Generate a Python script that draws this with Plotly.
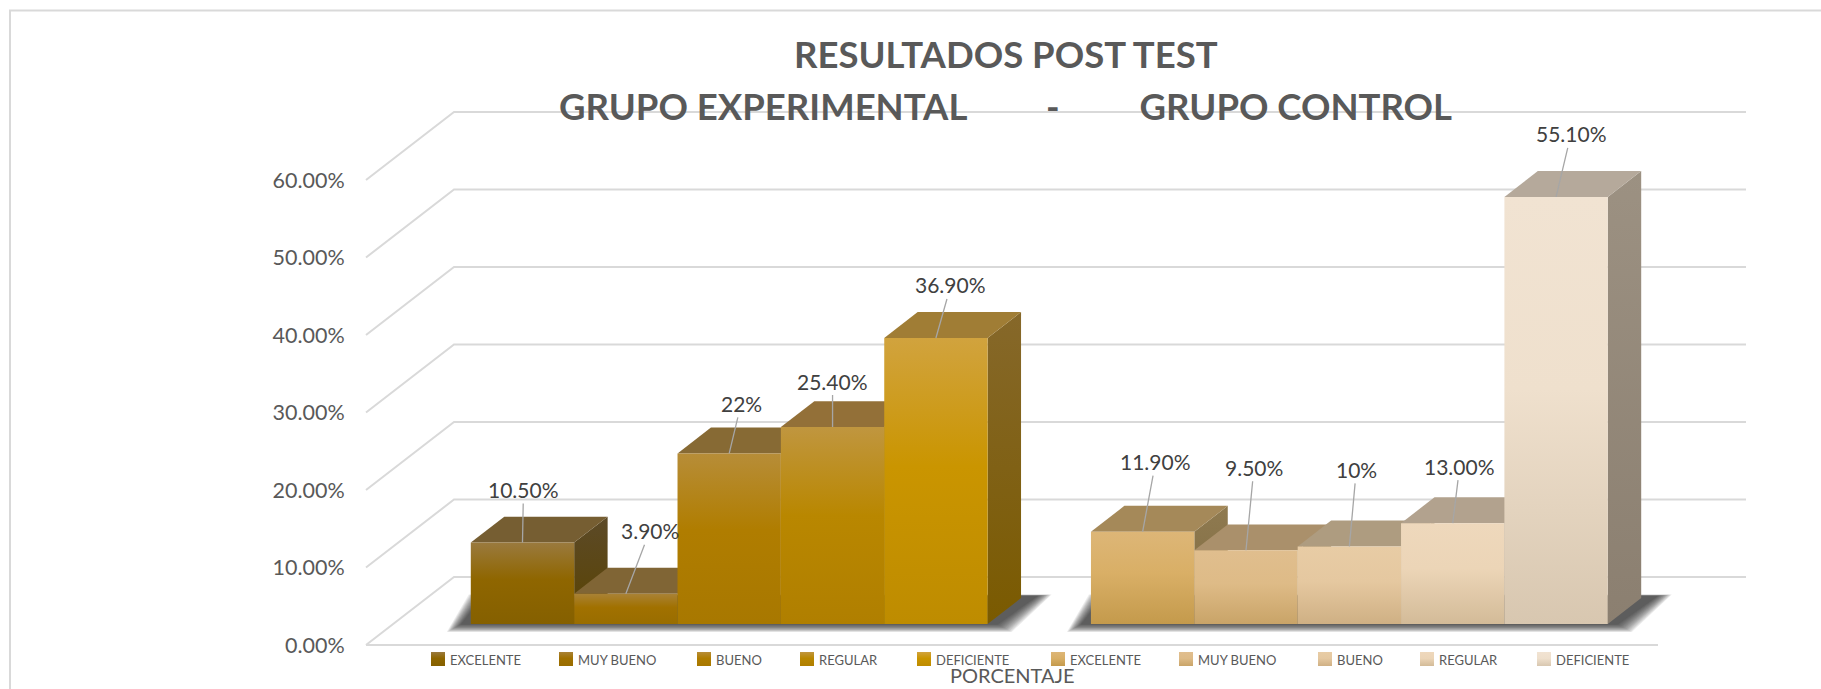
import plotly.graph_objects as go

# ---------- data ----------
CATEGORIES = ["EXCELENTE", "MUY BUENO", "BUENO", "REGULAR", "DEFICIENTE"]
EXPERIMENTAL = [10.5, 3.9, 22.0, 25.4, 36.9]
CONTROL = [11.9, 9.5, 10.0, 13.0, 55.1]
EXPERIMENTAL_LABELS = ["10.50%", "3.90%", "22%", "25.40%", "36.90%"]
CONTROL_LABELS = ["11.90%", "9.50%", "10%", "13.00%", "55.10%"]
TICK_VALUES = [0, 10, 20, 30, 40, 50, 60]
TICK_LABELS = ["0.00%", "10.00%", "20.00%", "30.00%", "40.00%", "50.00%", "60.00%"]
TITLE_1 = "RESULTADOS POST TEST"
TITLE_2 = "GRUPO EXPERIMENTAL" + "\u00a0" * 9 + "-" + "\u00a0" * 9 + "GRUPO CONTROL"
AXIS_TITLE = "PORCENTAJE"

# ---------- styles ----------
W, H = 1821, 689
X0_PX, Y0_PX = 366, 645      # front-left corner of the floor
UNIT = 103.36                # px per bar width
K = 7.75                     # px per percentage point
DX, DY = 88 / UNIT, 68 / K   # oblique depth of the chart box
D0, D1 = 0.31, 0.69          # bar position along the depth
FONT = "Lato"
GRID = "#d9d9d9"

FRONT = [  # bottom, mid, top
    ("#856000", "#8F6600", "#9A7A3E"), ("#996D00", "#A17100", "#A98236"),
    ("#A87800", "#B07D00", "#B78D38"), ("#B07F00", "#B98700", "#C0963F"),
    ("#BE8C00", "#CA9500", "#D1A33E"), ("#C49A4C", "#D9AF66", "#DDB677"),
    ("#C9A468", "#DEBB87", "#E0BE8E"), ("#CFB084", "#E5C8A0", "#E8CCA5"),
    ("#D3BB98", "#ECD5B7", "#EED8BC"), ("#D8C7B0", "#EFE0CD", "#F1E3D2"),
]
TOP = ["#765E32", "#806535", "#876A34", "#937038", "#A07D35",
       "#A58959", "#AA906B", "#AE9C80", "#B2A28E", "#B5A99B"]
SIDE = [("#5A4300", "#5C4A28"), ("#655000", "#6A5528"), ("#6E5600", "#735C2A"),
        ("#745A00", "#7A622A"), ("#7A5A00", "#86682A"), ("#7E6A40", "#8F7A50"),
        ("#85724F", "#948260"), ("#8B7B60", "#9A8B74"), ("#8D7F6A", "#9C8F7E"),
        ("#8B7F70", "#9C9182")]
LABEL_OFFSETS = [(1, -53), (24, -63), (12, -50), (0, -46), (15, -53),
                 (13, -70), (8, -83), (7, -77), (7, -57), (15, -63)]
LEGEND_SWATCH_PX = [431, 559, 697, 800, 917, 1051, 1179, 1318, 1420, 1537]


def xd(px):
    return (px - X0_PX) / UNIT


def yd(py):
    return (Y0_PX - py) / K


fig = go.Figure()


def poly(xs, ys, color=None, grad=None, name=None):
    kw = dict(x=xs + xs[:1], y=ys + ys[:1], mode="lines", fill="toself",
              line=dict(width=0), hoverinfo="skip", showlegend=False, name=name)
    if grad:
        kw["fillgradient"] = grad
        kw["fillcolor"] = grad["colorscale"][-1][1]
    else:
        kw["fillcolor"] = color
    fig.add_trace(go.Scatter(**kw))


def vgrad(y0, y1, stops):
    if len(stops) == 3:
        scale = [[0, stops[0]], [0.55, stops[1]], [1, stops[2]]]
    else:
        scale = [[0, stops[0]], [1, stops[1]]]
    return dict(type="vertical", start=y0, stop=y1, colorscale=scale)


# ---------- oblique gridlines ----------
for v in TICK_VALUES:
    fig.add_trace(go.Scatter(
        x=[0, DX, 12.5 + DX], y=[v, v + DY, v + DY], mode="lines",
        line=dict(color=GRID, width=2), hoverinfo="skip", showlegend=False))
fig.add_trace(go.Scatter(x=[0, 12.5], y=[0, 0], mode="lines",
                         line=dict(color=GRID, width=2.2), hoverinfo="skip", showlegend=False))

# ---------- bars ----------
values = EXPERIMENTAL + CONTROL
labels = EXPERIMENTAL_LABELS + CONTROL_LABELS
names = CATEGORIES + CATEGORIES
slots = [0, 1, 2, 3, 4, 6, 7, 8, 9, 10]
base = D0 * DY
ddx, ddy = (D1 - D0) * DX, (D1 - D0) * DY


# soft floor shadow under each group
def shadow(first, last):
    xl = 0.75 + first + D0 * DX
    xr = 0.75 + last + 1 + D0 * DX
    n = 14
    for k in range(n):
        e = (n - 1 - k) / (n - 1) * 14   # spread, px
        ex, up, dn = e / UNIT, 0.1 * e / K, 0.55 * e / K
        bot = base - 0.5 / K - dn
        top = base + 28 / K + up
        poly([xl - 10 / UNIT - ex, xr + 10 / UNIT + ex, xr + 50 / UNIT + ex, xl + 12 / UNIT - ex],
             [bot, bot, top, top], color="rgba(40,40,40,0.085)")


shadow(0, 4)
shadow(6, 10)

for i, (v, s) in enumerate(zip(values, slots)):
    x0 = 0.75 + s + D0 * DX
    x1 = x0 + 1
    y0 = base
    y1 = base + v
    # side face
    poly([x1, x1 + ddx, x1 + ddx, x1], [y0, y0 + ddy, y1 + ddy, y1],
         grad=vgrad(y0, y1 + ddy, SIDE[i]), name=names[i] + " (lateral)")
    # top face
    poly([x0, x1, x1 + ddx, x0 + ddx], [y1, y1, y1 + ddy, y1 + ddy],
         color=TOP[i], name=names[i] + " (superior)")
    # front face
    poly([x0, x1, x1, x0], [y0, y0, y1, y1],
         grad=vgrad(y0, y1, FRONT[i]), name=names[i])

# ---------- data labels with leader lines ----------
annotations = []
for i, (v, s) in enumerate(zip(values, slots)):
    x0 = 0.75 + s + D0 * DX
    annotations.append(dict(
        x=x0 + 0.5, y=base + v, xref="x", yref="y", text=labels[i],
        showarrow=True, arrowhead=0, arrowwidth=1.3, arrowcolor="#a6a6a6",
        ax=LABEL_OFFSETS[i][0], ay=LABEL_OFFSETS[i][1], standoff=0,
        font=dict(family=FONT, size=21, color="#404040")))

# ---------- legend row ----------
for i, px in enumerate(LEGEND_SWATCH_PX):
    xa, xb = xd(px), xd(px + 14)
    ya, yb = yd(666), yd(652)
    poly([xa, xb, xb, xa], [ya, ya, yb, yb],
         grad=vgrad(ya, yb, FRONT[i]), name=names[i] + " (leyenda)")
    annotations.append(dict(
        x=xd(px + 17), y=yd(660), xref="x", yref="y", xanchor="left", yanchor="middle",
        text=names[i], showarrow=False,
        font=dict(family=FONT, size=13, color="#595959")))

# ---------- titles ----------
annotations += [
    dict(x=xd(1006), y=yd(54), xref="x", yref="y", text=TITLE_1, showarrow=False,
         font=dict(family=FONT, size=36.5, color="#595959", weight="bold")),
    dict(x=xd(1005), y=yd(106), xref="x", yref="y", text=TITLE_2, showarrow=False,
         font=dict(family=FONT, size=36.5, color="#595959", weight="bold")),
    dict(x=xd(1012), y=yd(675), xref="x", yref="y", text=AXIS_TITLE, showarrow=False,
         font=dict(family=FONT, size=20, color="#595959")),
]

# ---------- chart frame ----------
fig.add_trace(go.Scatter(
    x=[xd(10), xd(10), xd(W + 5)], y=[yd(H + 5), yd(10.5), yd(10.5)], mode="lines",
    line=dict(color=GRID, width=2), hoverinfo="skip", showlegend=False))

fig.update_layout(
    width=W, height=H, autosize=False, showlegend=False,
    margin=dict(l=0, r=0, t=0, b=0), paper_bgcolor="white", plot_bgcolor="white",
    annotations=annotations,
    xaxis=dict(visible=False, range=[xd(0), xd(W)], fixedrange=True),
    yaxis=dict(range=[yd(H), yd(0)], tickvals=TICK_VALUES, ticktext=TICK_LABELS,
               anchor="free", position=X0_PX / W, showgrid=False, zeroline=False,
               showline=False, ticks="outside", ticklen=17, tickcolor="rgba(0,0,0,0)",
               tickfont=dict(family=FONT, size=21.5, color="#595959"), fixedrange=True),
)

fig.write_html("out.html", config=dict(displayModeBar=False),
               post_script="document.body.style.margin='0';document.documentElement.style.overflow='hidden';")
